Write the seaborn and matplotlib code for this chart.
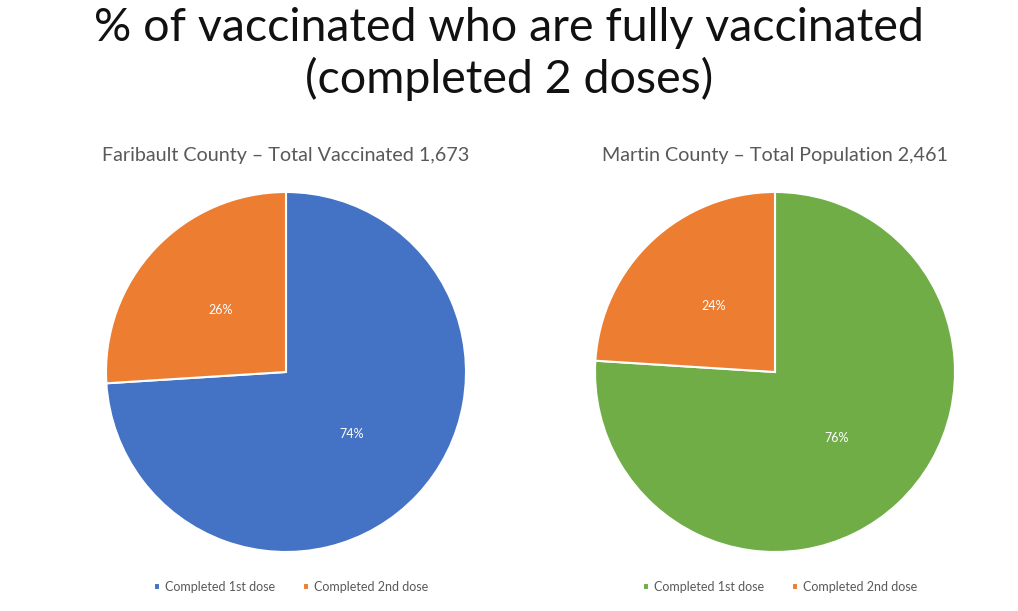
import matplotlib
matplotlib.use("Agg")
import matplotlib.pyplot as plt
import seaborn as sns

# data
dose_labels = ["Completed 1st dose", "Completed 2nd dose"]
faribault_pct = [74, 26]
martin_pct = [76, 24]
faribault_title = "Faribault County \u2013 Total Vaccinated 1,673"
martin_title = "Martin County \u2013 Total Population 2,461"
main_title = "% of vaccinated who are fully vaccinated\n(completed 2 doses)"

sns.set_style("white")
plt.rcParams['font.family'] = ['Lato', 'DejaVu Sans']

blue, orange, green = "#4472C4", "#ED7D31", "#70AD47"

fig = plt.figure(figsize=(10.18, 6.11), dpi=100)
fig.text(0.5, 0.988, main_title, ha='center', va='top', fontsize=33.5,
         color='#111111', linespacing=1.2)

def draw_pie(rect, values, colors, title, title_x):
    ax = fig.add_axes(rect)
    wedges, texts = ax.pie(values, colors=colors, startangle=90, counterclock=False,
                           labels=[f"{v}%" for v in values], labeldistance=0.5,
                           wedgeprops=dict(edgecolor='white', linewidth=1.5),
                           textprops=dict(color='white', fontsize=9))
    for t in texts:
        t.set_ha('center')
    ax.set_xlim(-1, 1)
    ax.set_ylim(-1, 1)
    ax.set_aspect('equal')
    ax.axis('off')
    fig.text(title_x, 1 - 155 / 611, title, ha='center', va='center',
             fontsize=14.2, color='#595959')
    leg = fig.legend(wedges, dose_labels, loc='center', ncol=2,
                     bbox_to_anchor=(title_x + 0.005, 1 - 587 / 611), frameon=False,
                     fontsize=9, handlelength=0.5, handleheight=0.5,
                     columnspacing=2.2, handletextpad=0.4)
    for t in leg.get_texts():
        t.set_color('#595959')
    return ax

draw_pie([106 / 1018, 59 / 611, 360 / 1018, 360 / 611], faribault_pct, [blue, orange],
         faribault_title, 286 / 1018)
draw_pie([595 / 1018, 59 / 611, 360 / 1018, 360 / 611], martin_pct, [green, orange],
         martin_title, 775 / 1018)

fig.savefig("out.png", dpi=100)
